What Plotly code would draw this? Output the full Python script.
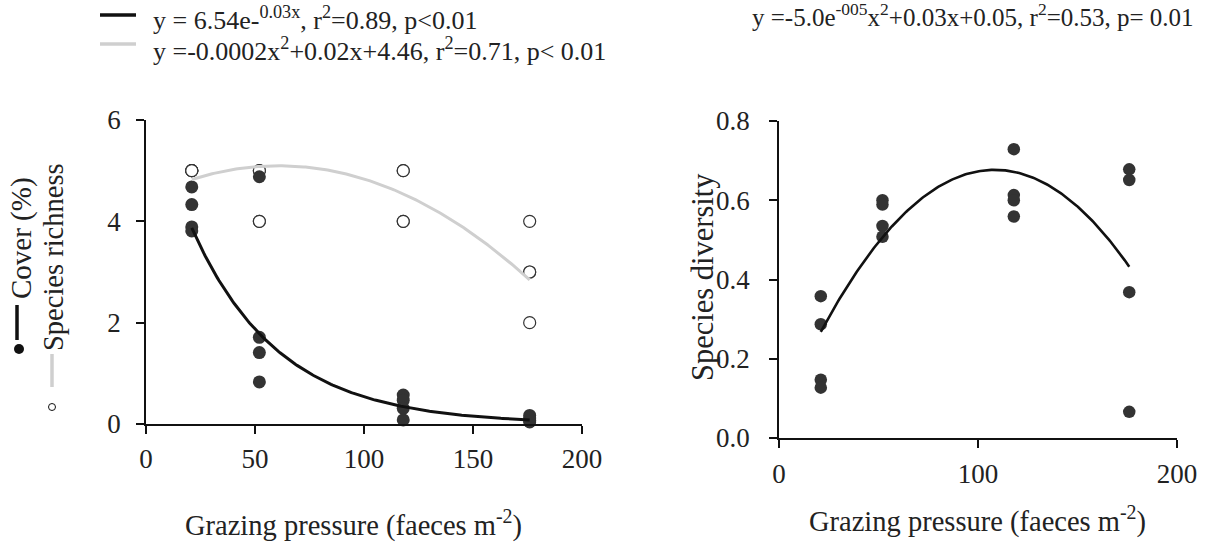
import numpy as np
import plotly.graph_objects as go

W, H = 1210, 542

# ---- data ----
cover_x = [21, 21, 21, 21, 52, 52, 52, 52, 118, 118, 118, 118, 176, 176, 176, 176]
cover_y = [4.68, 4.33, 3.89, 3.81, 4.88, 1.71, 1.41, 0.83, 0.57, 0.47, 0.31, 0.08, 0.17, 0.12, 0.07, 0.04]

rich_x = [21, 21, 21, 21, 52, 52, 52, 52, 118, 118, 118, 118, 176, 176, 176, 176]
rich_y = [5, 5, 5, 5, 5, 5, 4, 4, 5, 5, 4, 4, 4, 3, 3, 2]

div_x = [21, 21, 21, 21, 52, 52, 52, 52, 118, 118, 118, 118, 176, 176, 176, 176]
div_y = [0.358, 0.287, 0.147, 0.127, 0.600, 0.589, 0.535, 0.508, 0.729, 0.613, 0.600, 0.559, 0.678, 0.651, 0.368, 0.066]

# fitted-curve coefficients (as drawn)
cover_fit = (6.54, -0.025)            # a*exp(b*x)
rich_fit = (-0.00017, 0.0207, 4.467)  # a*x^2 + b*x + c
div_fit = (-5.35e-5, 0.0116, 0.048)   # a*x^2 + b*x + c
fit_range = (21, 176)

x_ticks_left = [0, 50, 100, 150, 200]
y_ticks_left = [0, 2, 4, 6]
x_ticks_right = [0, 100, 200]
y_ticks_right = [0.0, 0.2, 0.4, 0.6, 0.8]

leg1 = "y = 6.54e-<sup>0.03x</sup>, r<sup>2</sup>=0.89, p&lt;0.01"
leg2 = "y =-0.0002x<sup>2</sup>+0.02x+4.46, r<sup>2</sup>=0.71, p&lt; 0.01"
eq_right = "y =-5.0e<sup>-005</sup>x<sup>2</sup>+0.03x+0.05, r<sup>2</sup>=0.53, p= 0.01"
xtitle = "Grazing pressure (faeces m<sup>-2</sup>)"

FONT = "Liberation Serif"
TXT = "#222222"
DOT = "#333333"
GRAY = "#cfcfcf"


def px(x):
    return x / W


def py(y):
    return 1 - y / H


xf = np.linspace(fit_range[0], fit_range[1], 200)
cover_curve = cover_fit[0] * np.exp(cover_fit[1] * xf)
rich_curve = rich_fit[0] * xf ** 2 + rich_fit[1] * xf + rich_fit[2]
div_curve = div_fit[0] * xf ** 2 + div_fit[1] * xf + div_fit[2]

fig = go.Figure()

# left panel
fig.add_trace(go.Scatter(x=rich_x, y=rich_y, mode="markers", xaxis="x", yaxis="y",
                         marker=dict(size=12, color="white", line=dict(color=DOT, width=1.2)),
                         cliponaxis=False, showlegend=False))
fig.add_trace(go.Scatter(x=cover_x, y=cover_y, mode="markers", xaxis="x", yaxis="y",
                         marker=dict(size=13, color=DOT, line=dict(width=0)),
                         cliponaxis=False, showlegend=False))
fig.add_trace(go.Scatter(x=xf, y=rich_curve, mode="lines", xaxis="x", yaxis="y",
                         line=dict(color=GRAY, width=3), cliponaxis=False, showlegend=False))
fig.add_trace(go.Scatter(x=xf, y=cover_curve, mode="lines", xaxis="x", yaxis="y",
                         line=dict(color="#111111", width=3), cliponaxis=False, showlegend=False))

# right panel
fig.add_trace(go.Scatter(x=div_x, y=div_y, mode="markers", xaxis="x2", yaxis="y2",
                         marker=dict(size=12.5, color=DOT, line=dict(width=0)),
                         cliponaxis=False, showlegend=False))
fig.add_trace(go.Scatter(x=xf, y=div_curve, mode="lines", xaxis="x2", yaxis="y2",
                         line=dict(color="#111111", width=2.6), cliponaxis=False, showlegend=False))

axis_common = dict(showline=True, linecolor="#111111", linewidth=1.5, ticks="outside",
                   ticklen=8, tickwidth=1.5, tickcolor="#111111", showgrid=False, zeroline=False,
                   automargin=False,
                   tickfont=dict(family=FONT, size=27, color=TXT), fixedrange=True)

fig.update_layout(
    template="none",
    width=W, height=H,
    margin=dict(l=0, r=0, t=0, b=0, autoexpand=False),
    paper_bgcolor="white", plot_bgcolor="white",
    font=dict(family=FONT, color=TXT),
    showlegend=False,
    xaxis=dict(domain=[px(146), px(582)], range=[0, 200], tickvals=x_ticks_left,
               anchor="y", ticklabelstandoff=2, **axis_common),
    yaxis=dict(domain=[py(424), py(120)], range=[0, 6], tickvals=y_ticks_left,
               anchor="x", ticklabelstandoff=10, **axis_common),
    xaxis2=dict(domain=[px(779), px(1177)], range=[0, 200], tickvals=x_ticks_right,
                anchor="y2", ticklabelstandoff=3, **axis_common),
    yaxis2=dict(domain=[py(438), py(121)], range=[0, 0.8], tickvals=y_ticks_right,
                tickformat=".1f", anchor="x2", ticklabelstandoff=14, **axis_common),
)

ann = []
shapes = []

# top-left legend
shapes.append(dict(type="line", xref="paper", yref="paper", x0=px(100), x1=px(136),
                   y0=py(15), y1=py(15), line=dict(color="#111111", width=3.5)))
shapes.append(dict(type="line", xref="paper", yref="paper", x0=px(100), x1=px(136),
                   y0=py(44), y1=py(44), line=dict(color=GRAY, width=3.5)))
ann.append(dict(text=leg1, x=px(151), y=py(19), xanchor="left", yanchor="middle"))
ann.append(dict(text=leg2, x=px(151), y=py(50), xanchor="left", yanchor="middle"))
for a in ann:
    a.update(xref="paper", yref="paper", showarrow=False,
             font=dict(family=FONT, size=26, color=TXT))

# top-right equation
ann.append(dict(text=eq_right, x=px(1196), y=py(15), xref="paper", yref="paper",
                xanchor="right", yanchor="middle", showarrow=False,
                font=dict(family=FONT, size=25, color=TXT)))

# x axis titles
ann.append(dict(text=xtitle, x=px(353), y=py(523), xref="paper", yref="paper",
                xanchor="center", yanchor="middle", showarrow=False,
                font=dict(family=FONT, size=28.5, color=TXT)))
ann.append(dict(text=xtitle, x=px(977), y=py(519), xref="paper", yref="paper",
                xanchor="center", yanchor="middle", showarrow=False,
                font=dict(family=FONT, size=28.5, color=TXT)))

# right y title
ann.append(dict(text="Species diversity", x=px(703), y=py(277), xref="paper", yref="paper",
                xanchor="center", yanchor="middle", textangle=-90, showarrow=False,
                font=dict(family=FONT, size=30.5, color=TXT)))

# left y "legend-like" title
ann.append(dict(text="Cover (%)", x=px(21), y=py(238), xref="paper", yref="paper",
                xanchor="center", yanchor="middle", textangle=-90, showarrow=False,
                font=dict(family=FONT, size=29, color=TXT)))
ann.append(dict(text="Species richness", x=px(53), y=py(257), xref="paper", yref="paper",
                xanchor="center", yanchor="middle", textangle=-90, showarrow=False,
                font=dict(family=FONT, size=28.5, color=TXT)))
shapes.append(dict(type="line", xref="paper", yref="paper", x0=px(17), x1=px(17),
                   y0=py(305), y1=py(340), line=dict(color="#111111", width=3.5)))
shapes.append(dict(type="circle", xref="paper", yref="paper", xsizemode="pixel", ysizemode="pixel",
                   xanchor=px(19), yanchor=py(349), x0=-5, x1=5, y0=-5, y1=5,
                   fillcolor="#111111", line=dict(width=0)))
shapes.append(dict(type="line", xref="paper", yref="paper", x0=px(52), x1=px(52),
                   y0=py(354), y1=py(387), line=dict(color=GRAY, width=3.5)))
shapes.append(dict(type="circle", xref="paper", yref="paper", xsizemode="pixel", ysizemode="pixel",
                   xanchor=px(52), yanchor=py(407), x0=-3.5, x1=3.5, y0=-3.5, y1=3.5,
                   fillcolor="white", line=dict(color="#111111", width=1)))

fig.update_layout(annotations=ann, shapes=shapes)

# remove the default 8px page margin so the figure fills the window exactly
fig.write_html("out.html", config={"displayModeBar": False},
               post_script="document.body.style.margin='0';document.body.style.overflow='hidden';")
